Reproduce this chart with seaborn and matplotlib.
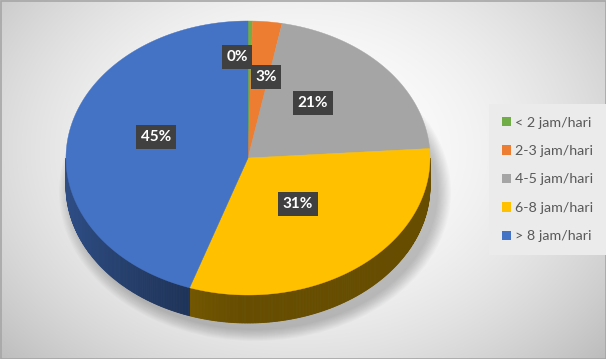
import numpy as np
import matplotlib
matplotlib.use("Agg")
import matplotlib.pyplot as plt
from matplotlib.patches import Polygon, Patch, Ellipse, Rectangle
import seaborn as sns

# ---- data ----
categories = ["< 2 jam/hari", "2-3 jam/hari", "4-5 jam/hari", "6-8 jam/hari", "> 8 jam/hari"]
values = [0.4, 2.6, 20.9, 31.3, 44.8]
colors = ["#70AD47", "#ED7D31", "#A5A5A5", "#FFC000", "#4472C4"]

sns.set_theme(style="white")
plt.rcParams['font.family'] = ['Lato', 'DejaVu Sans']

W, H = 606, 359
fig = plt.figure(figsize=(W / 100, H / 100), dpi=100)
ax = fig.add_axes([0, 0, 1, 1])
ax.set_xlim(0, W)
ax.set_ylim(H, 0)
ax.axis('off')

# background radial gradient
yy, xx = np.mgrid[0:H, 0:W]
r2 = ((xx - 300) / 330.0) ** 2 + ((yy - 150) / 250.0) ** 2
v = np.clip(1 - 0.17 * r2, 0, 1)
ax.imshow(np.dstack([v, v, v]), extent=(0, W, H, 0), zorder=0, aspect='auto')
ax.add_patch(Rectangle((0.5, 0.5), W - 1, H - 1, fill=False, edgecolor='#a6a6a6', lw=1.2, zorder=1))

# pie geometry (layout)
cx, cy, rx, ry, depth = 248, 158, 182, 137, 28

# soft shadow
for k in range(12):
    ax.add_patch(Ellipse((cx + 7, cy + depth + 6), 2 * (rx + 14 - k * 1.2), 2 * (ry + 12 - k * 1.0),
                         facecolor='black', edgecolor='none', alpha=0.02, zorder=2))

def pt(theta_deg, f=1.0, dy=0.0):
    t = np.radians(theta_deg)
    return cx + rx * f * np.sin(t), cy - ry * f * np.cos(t) + dy

def shade(c, f):
    rgb = np.array(matplotlib.colors.to_rgb(c))
    return tuple(rgb * f)

total = sum(values)
starts = np.cumsum([0] + values[:-1]) / total * 360
ends = np.cumsum(values) / total * 360

# side walls (visible front half: 90..270 deg)
for s, e, c in zip(starts, ends, colors):
    a0, a1 = max(s, 90), min(e, 270)
    if a1 <= a0:
        continue
    angs = np.linspace(a0, a1, max(2, int((a1 - a0) * 2) + 1))
    for i in range(len(angs) - 1):
        t0, t1 = angs[i], angs[i + 1]
        tm = np.radians((t0 + t1) / 2)
        f = 0.40 + 0.28 * max(0.0, -np.sin(tm)) ** 1.5
        p = [pt(t0), pt(t1), pt(t1, dy=depth), pt(t0, dy=depth)]
        ax.add_patch(Polygon(p, closed=True, facecolor=shade(c, f), edgecolor=shade(c, f), lw=0.6, zorder=3))

# top faces
for s, e, c in zip(starts, ends, colors):
    angs = np.linspace(s, e, max(2, int((e - s) * 2) + 2))
    p = [(cx, cy)] + [pt(a) for a in angs]
    ax.add_patch(Polygon(p, closed=True, facecolor=c, edgecolor=c, lw=0.3, zorder=4))

# data labels (layout positions)
label_pos = [(237, 57), (266, 77), (313, 103), (298, 204), (156, 137)]
for val, (lx, ly) in zip(values, label_pos):
    ax.text(lx, ly, f"{val:.0f}%", ha='center', va='center', fontsize=11, fontweight='bold',
            color='white', zorder=6,
            bbox=dict(boxstyle='square,pad=0.3', facecolor='#404040', edgecolor='none'))

# legend
handles = [Patch(facecolor=c, edgecolor='none', label=l) for c, l in zip(colors, categories)]
leg = ax.legend(handles=handles, loc='upper left', bbox_to_anchor=(493 / W, 1 - 108 / H),
                frameon=True, fontsize=10.3, labelspacing=1.15, handlelength=0.65, handleheight=0.65,
                handletextpad=0.3, borderpad=0.6, borderaxespad=0)
leg.get_frame().set_facecolor('#ebebeb')
leg.get_frame().set_edgecolor('none')
leg.get_frame().set_alpha(1)
leg.get_frame().set_boxstyle('square')
for t in leg.get_texts():
    t.set_color('#595959')
leg.set_zorder(7)

fig.savefig("out.png", dpi=100)
